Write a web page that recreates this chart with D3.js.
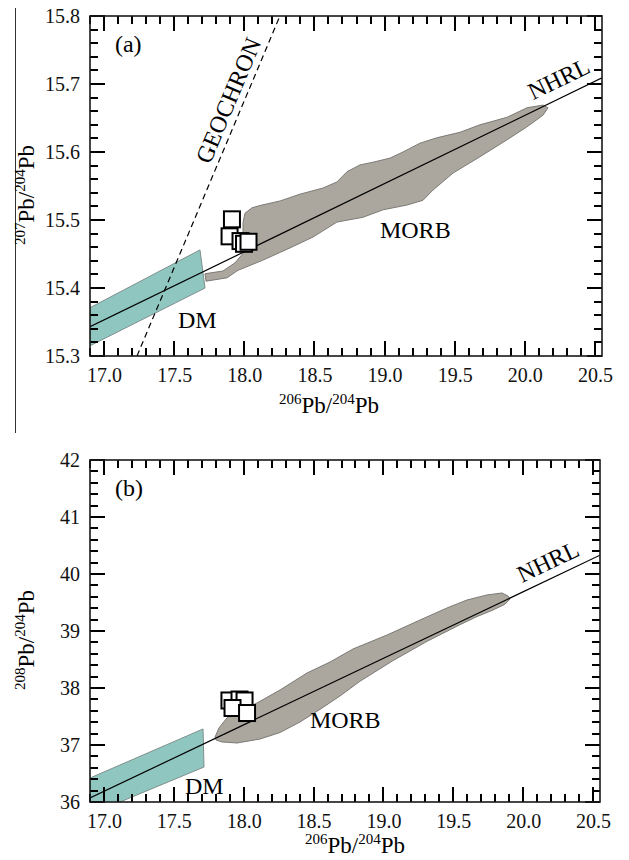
<!DOCTYPE html>
<html>
<head>
<meta charset="utf-8">
<script src="https://cdn.jsdelivr.net/npm/d3@7"></script>
<style>
  body { margin: 0; background: #fff; }
  svg { display: block; }
</style>
</head>
<body>
<svg id="chart" width="629" height="860" font-family="'Liberation Serif', 'Times New Roman', serif"></svg>
<script>
const serif = "'Liberation Serif', 'Times New Roman', serif";
const xTicks = [17.0, 17.5, 18.0, 18.5, 19.0, 19.5, 20.0, 20.5];
const yTicksA = [15.3, 15.4, 15.5, 15.6, 15.7, 15.8];
const yTicksB = [36, 37, 38, 39, 40, 41, 42];

// panel (a) 207Pb/204Pb vs 206Pb/204Pb
const nhrlA = [[16.9, 15.343], [20.55, 15.709]];
const geochronA = [[17.235, 15.3], [18.254, 15.8]];
const dmA = [[16.9, 15.371], [17.684, 15.456], [17.720, 15.400], [16.9, 15.315]];
const morbA = [
  [17.720, 15.421], [17.848, 15.425], [17.934, 15.437], [17.991, 15.451], [17.991, 15.496],
  [18.005, 15.510], [18.055, 15.518], [18.126, 15.522], [18.255, 15.528], [18.397, 15.538],
  [18.561, 15.547], [18.661, 15.556], [18.732, 15.571], [18.825, 15.581], [18.918, 15.585],
  [19.039, 15.591], [19.131, 15.600], [19.253, 15.613], [19.374, 15.621], [19.538, 15.629],
  [19.680, 15.640], [19.873, 15.651], [20.015, 15.665], [20.129, 15.669], [20.165, 15.665],
  [20.129, 15.654], [20.015, 15.637], [19.873, 15.618], [19.680, 15.593], [19.488, 15.569],
  [19.345, 15.544], [19.274, 15.529], [19.160, 15.522], [18.989, 15.515], [18.846, 15.504],
  [18.661, 15.497], [18.490, 15.475], [18.326, 15.459], [18.133, 15.441], [17.955, 15.426],
  [17.877, 15.415], [17.727, 15.410]
];
const samplesA = [[17.912, 15.501], [17.895, 15.476], [17.973, 15.469], [17.998, 15.465], [18.030, 15.468]];

// panel (b) 208Pb/204Pb vs 206Pb/204Pb
const nhrlB = [[16.9, 36.07], [20.55, 40.33]];
const dmB = [[16.9, 36.421], [17.709, 37.281], [17.716, 36.614], [16.9, 35.781]];
const morbB = [
  [17.795, 37.140], [17.823, 37.298], [17.880, 37.474], [17.974, 37.596], [18.095, 37.737],
  [18.260, 37.965], [18.453, 38.263], [18.618, 38.456], [18.782, 38.684], [19.026, 38.930],
  [19.262, 39.193], [19.455, 39.404], [19.598, 39.544], [19.741, 39.632], [19.849, 39.667],
  [19.892, 39.614], [19.906, 39.561], [19.870, 39.470], [19.784, 39.368], [19.670, 39.253],
  [19.548, 39.111], [19.312, 38.818], [19.069, 38.481], [18.832, 38.118], [18.689, 37.860],
  [18.546, 37.625], [18.403, 37.404], [18.260, 37.219], [18.117, 37.105], [17.952, 37.035],
  [17.845, 37.053], [17.802, 37.088]
];
const samplesB = [[17.898, 37.781], [17.970, 37.798], [18.006, 37.781], [17.920, 37.649], [18.024, 37.561]];

const labelsA = [
  {text: "(a)", x: 17.078, y: 15.747},
  {text: "DM", x: 17.527, y: 15.341},
  {text: "MORB", x: 18.967, y: 15.474},
  {text: "NHRL", x: 20.058, y: 15.676, along: nhrlA},
  {text: "GEOCHRON", x: 17.755, y: 15.581, along: geochronA}
];
const labelsB = [
  {text: "(b)", x: 17.079, y: 41.368},
  {text: "DM", x: 17.580, y: 36.140},
  {text: "MORB", x: 18.474, y: 37.298},
  {text: "NHRL", x: 19.992, y: 39.842, along: nhrlB}
];

const svg = d3.select("#chart");

// stray page rule at the left of panel (a)
svg.append("path")
    .attr("d", "M15.5,8V433")
    .attr("stroke", "#333").attr("stroke-width", 1);

function drawPanel(p) {
  const x = d3.scaleLinear().domain([16.9, 20.55]).range([90, p.right]);
  const y = d3.scaleLinear().domain(p.yDomain).range([p.bottom, p.top]);
  const g = svg.append("g");

  g.append("clipPath").attr("id", p.id)
    .append("rect")
      .attr("x", 90).attr("y", p.top)
      .attr("width", p.right - 90).attr("height", p.bottom - p.top);

  const plot = g.append("g").attr("clip-path", `url(#${p.id})`);
  const line = d3.line().x(d => x(d[0])).y(d => y(d[1]));

  plot.append("path")
      .attr("d", line(p.dm) + "Z")
      .attr("fill", "#8fc6c0")
      .attr("stroke", "#7f8f8c")
      .attr("stroke-width", 1);

  plot.append("path")
      .attr("d", line(p.morb) + "Z")
      .attr("fill", "#aba79e")
      .attr("stroke", "#7c7a75")
      .attr("stroke-width", 1);

  plot.append("path")
      .attr("d", line(p.nhrl))
      .attr("fill", "none")
      .attr("stroke", "#000")
      .attr("stroke-width", 1.2);

  if (p.geochron) {
    plot.append("path")
        .attr("d", line(p.geochron))
        .attr("fill", "none")
        .attr("stroke", "#000")
        .attr("stroke-width", 1.2)
        .attr("stroke-dasharray", "6,4");
  }

  plot.selectAll("rect.sample").data(p.samples).enter().append("rect")
      .attr("class", "sample")
      .attr("x", d => x(d[0]) - 8)
      .attr("y", d => y(d[1]) - 8)
      .attr("width", 16).attr("height", 16)
      .attr("fill", "#fff")
      .attr("stroke", "#000")
      .attr("stroke-width", 2);

  g.selectAll("text.label").data(p.labels).enter().append("text")
      .attr("class", "label")
      .attr("font-size", 24)
      .attr("fill", "#000")
      .attr("transform", d => {
        let t = `translate(${x(d.x)},${y(d.y)})`;
        if (d.along) {
          const a = Math.atan2(y(d.along[1][1]) - y(d.along[0][1]),
                               x(d.along[1][0]) - x(d.along[0][0])) * 180 / Math.PI;
          t += ` rotate(${a})`;
        }
        return t;
      })
      .text(d => d.text);

  // tick marks on all four sides, pointing inward (snapped to whole pixels)
  const xMinor = d3.range(169, 206).map(d => d / 10);
  let tickPath = "";
  xMinor.forEach(v => {
    const len = xTicks.some(t => Math.abs(t - v) < 1e-6) ? 15 : 8;
    const px = Math.round(x(v));
    tickPath += `M${px},${p.bottom}L${px},${p.bottom - len}M${px},${p.top}L${px},${p.top + len}`;
  });
  p.yMinor.forEach(v => {
    const len = p.yTicks.some(t => Math.abs(t - v) < 1e-6) ? 15 : 8;
    const py = Math.round(y(v));
    tickPath += `M90,${py}L${90 + len},${py}M${p.right},${py}L${p.right - len},${py}`;
  });
  g.append("path")
      .attr("d", tickPath)
      .attr("fill", "none")
      .attr("stroke", "#000")
      .attr("stroke-width", 2);

  // tick labels from the axes
  const bottomAxis = g.append("g").attr("transform", `translate(0,${p.bottom})`)
    .call(d3.axisBottom(x).tickValues(xTicks).tickSize(0).tickPadding(12)
      .tickFormat(d3.format(".1f")));
  const leftAxis = g.append("g").attr("transform", "translate(90,0)")
    .call(d3.axisLeft(y).tickValues(p.yTicks).tickSize(0).tickPadding(10)
      .tickFormat(p.yFormat));
  [bottomAxis, leftAxis].forEach(a => {
    a.attr("font-family", serif).attr("font-size", 20);
    a.selectAll("text").attr("fill", "#111").style("font-family", "Liberation Serif");
    a.select(".domain").remove();
  });

  g.append("rect")
      .attr("x", 90).attr("y", p.top)
      .attr("width", p.right - 90).attr("height", p.bottom - p.top)
      .attr("fill", "none")
      .attr("stroke", "#1a1a1a")
      .attr("stroke-width", 1.6);

  addTitle(g, p.xTitle[0], p.xTitle[1], 0, "206");
  addTitle(g, 34, p.yTitle, -90, p.yIso);
}

function addTitle(g, cx, cy, angle, iso) {
  const t = g.append("text")
      .attr("transform", `translate(${cx},${cy}) rotate(${angle})`)
      .attr("text-anchor", "middle")
      .attr("fill", "#000");
  [[iso, true], ["Pb/", false], ["204", true], ["Pb", false]].forEach(([s, sup]) => {
    t.append("tspan")
        .attr("font-size", sup ? 15 : 23)
        .attr("dy", sup ? -9 : 9)
        .text(s);
  });
  t.select("tspan").attr("dy", -9);
}

drawPanel({
  id: "clip-a", top: 16, bottom: 356, right: 602,
  yDomain: [15.3, 15.8], yTicks: yTicksA,
  yMinor: d3.range(765, 791).map(d => d / 50), yFormat: d3.format(".1f"),
  dm: dmA, morb: morbA, nhrl: nhrlA, geochron: geochronA,
  samples: samplesA, labels: labelsA,
  xTitle: [329, 413], yTitle: 195, yIso: "207"
});

drawPanel({
  id: "clip-b", top: 460, bottom: 802, right: 600,
  yDomain: [36, 42], yTicks: yTicksB,
  yMinor: d3.range(180, 211).map(d => d / 5), yFormat: d3.format("d"),
  dm: dmB, morb: morbB, nhrl: nhrlB, geochron: null,
  samples: samplesB, labels: labelsB,
  xTitle: [355, 853], yTitle: 640, yIso: "208"
});
</script>
</body>
</html>
